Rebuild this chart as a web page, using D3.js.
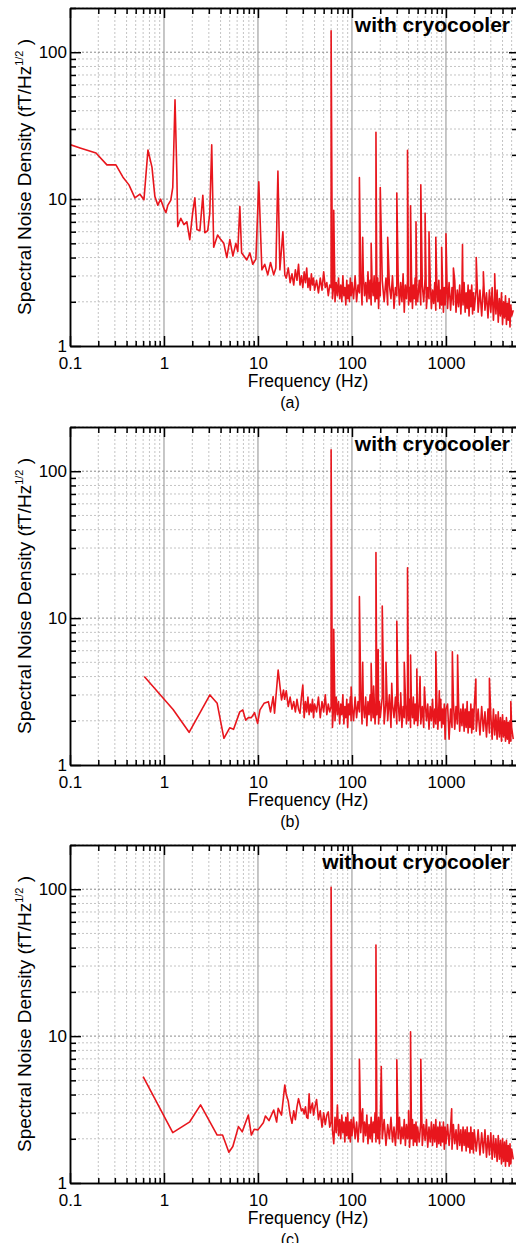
<!DOCTYPE html>
<html>
<head>
<meta charset="utf-8">
<title>spectral noise density</title>
<script src="https://d3js.org/d3.v7.min.js"></script>
<style>
body { margin: 0; background: #fff; }
svg { display: block; font-family: "Liberation Sans", Arial, sans-serif; }
</style>
</head>
<body>
<script>
// values
const titles = ["with cryocooler", "with cryocooler", "without cryocooler"];
const tags = ["(a)", "(b)", "(c)"];
const xTicks = [0.1, 1, 10, 100, 1000];
const yTicks = [1, 10, 100];

// low frequency part, [Hz, fT/Hz^1/2]
const lowA = [[0.1,23.5],[0.128,22.3],[0.189,20.6],[0.247,17.1],[0.308,17.1],[0.366,14.1],[0.424,12.5],
  [0.49,10.2],[0.555,10.8],[0.612,9.9],[0.675,21.6],[0.745,16.5],[0.8,10.4],[0.86,9.1],[0.92,10.0],
  [1.0,8.6],[1.05,8.1],[1.1,9.1],[1.18,9.8],[1.24,12],[1.31,47.5],[1.37,15],[1.4,6.5],[1.51,7.4],
  [1.63,6.7],[1.75,7.0],[1.88,5.3],[2.02,8.1],[2.13,10.2],[2.24,6.2],[2.41,6.1],[2.59,10.6],[2.72,5.9],
  [2.92,6.1],[3.07,8],[3.22,23.4],[3.38,4.7],[3.72,5.7],[4.02,5.3],[4.33,5.0],[4.66,4.0],[5.02,5.3],
  [5.41,4.1],[5.82,5.0],[6.1,4.4],[6.41,8.9],[6.7,4.3],[6.9,4.2],[7.6,3.85],[8.2,4.3],[8.8,3.6],
  [9.5,3.9],[10.2,13.1],[11.0,3.3],[11.8,3.6],[12.7,3.05],[13.6,3.7],[14.7,3.05],[15.5,3.4],
  [16.3,15.5],[17.1,3.3],[18.4,6.0],[19.3,3.05]];
const lowB = [[0.617,4.0],[1.25,2.39],[1.85,1.67],[3.08,3.0],[3.68,2.63],[4.34,1.52],[5.0,1.79],
  [5.5,1.75],[6.4,2.3],[6.9,2.37],[7.4,2.02],[7.9,2.1],[8.5,2.1],[9.2,2.27],[9.9,1.92],[10.5,2.37],
  [11.6,2.63],[12.9,2.7],[13.6,2.3],[14.5,2.92],[15.0,2.25],[16.4,4.43],[17.8,2.77],[18.7,3.24],[19.2,2.8]];
const lowC = [[0.6,5.3],[1.24,2.2],[1.88,2.61],[2.45,3.4],[3.68,2.12],[4.2,2.12],[4.9,1.62],[5.4,1.77],
  [6.2,2.42],[6.8,2.23],[7.9,2.9],[8.5,2.12],[9.1,2.32],[10.0,2.3],[11.4,2.57],[12.0,2.86],[13.1,2.66],
  [13.9,2.9],[14.7,3.14],[15.8,2.6],[16.4,3.22],[17.8,2.9],[19.3,4.65]];

// noise floor above 20 Hz, same frequencies for all panels
const freqGrid = [
  20,21,22,23,24,25,26,27,28,29,30,31,32,33,34,35,36,37,38,39,40,
  42,44,46,48,50,52,54,56,58,60,62,64,66,68,70,72,74,76,78,80,82,84,86,88,90,92,94,96,98,100,
  104,108,112,116,120,124,128,132,136,140,144,148,152,156,160,164,168,172,176,180,184,188,192,196,200,
  210,220,230,240,250,260,270,280,290,300,310,320,330,340,350,360,370,380,390,400,410,420,430,440,450,460,470,480,490,500,
  520,540,560,580,600,620,640,660,680,700,720,740,760,780,800,820,840,860,880,900,920,940,960,980,1000,
  1040,1080,1120,1160,1200,1240,1280,1320,1360,1400,1440,1480,1520,1560,1600,1640,1680,1720,1760,1800,1840,1880,1920,1960,2000,
  2100,2200,2300,2400,2500,2600,2700,2800,2900,3000,3100,3200,3300,3400,3500,3600,3700,3800,3900,4000,
  4100,4200,4300,4400,4500,4600,4700,4800,4900,5000,5200];

const noiseA = [
  2.9,3.4,2.7,3.1,2.6,3.3,2.8,3.6,2.6,3.0,2.5,3.2,2.7,3.4,2.5,2.9,2.4,3.1,2.6,2.9,2.4,
  2.8,2.3,2.9,2.4,3.2,2.5,2.7,2.2,2.6,2.5,2.1,2.6,2.0,2.7,2.2,2.9,2.1,2.6,2.0,3.0,2.2,2.5,1.9,2.8,2.1,2.6,2.0,2.9,2.2,2.7,
  2.1,3.0,2.0,2.6,2.3,2.9,1.9,3.1,2.2,2.7,2.0,3.2,2.1,2.8,1.9,2.6,2.2,3.0,2.0,2.5,2.1,2.9,1.8,2.7,2.2,
  2.8,2.0,2.9,1.9,2.6,2.1,3.0,1.8,2.5,2.2,2.9,1.9,2.7,2.0,3.1,1.7,2.6,2.1,2.8,1.9,2.5,2.0,3.0,1.8,2.6,2.1,2.9,1.9,2.4,2.0,
  2.8,1.9,2.6,2.0,2.9,1.8,2.5,2.1,2.8,1.8,2.4,1.95,2.7,1.75,2.6,2.0,2.8,1.8,2.4,1.9,2.7,1.7,2.5,1.9,2.6,
  1.8,2.7,1.75,2.5,1.9,2.8,1.7,2.4,1.85,2.6,1.65,2.5,1.9,2.7,1.7,2.3,1.8,2.6,1.6,2.4,1.85,2.6,1.65,2.3,1.75,
  2.5,1.7,2.4,1.6,2.6,1.75,2.3,1.55,2.4,1.7,2.5,1.5,2.2,1.65,2.4,1.45,2.1,1.6,2.3,1.4,
  2.0,1.55,2.2,1.4,1.95,1.5,2.1,1.35,1.9,1.6,1.75];
const noiseB = [
  3.2,2.5,2.9,2.4,2.7,2.3,2.8,2.4,2.25,2.9,3.5,2.1,2.7,2.3,2.9,2.2,2.6,2.3,2.8,2.1,2.6,
  2.3,2.9,2.1,2.7,2.3,3.0,2.2,2.6,2.3,2.5,1.8,2.6,2.0,2.9,2.2,2.7,1.9,2.6,2.2,3.0,1.9,2.5,2.1,2.8,1.8,2.6,2.2,2.9,2.0,2.6,
  2.0,2.9,2.1,2.7,2.3,3.1,1.9,2.6,2.1,2.9,1.85,2.7,2.2,3.0,2.0,2.6,2.1,2.9,1.9,2.5,2.2,3.0,1.9,2.7,2.1,
  2.9,1.9,2.7,2.0,3.0,1.8,2.6,2.1,2.9,1.9,2.7,2.0,2.8,1.8,2.5,2.1,3.0,1.9,2.6,2.0,2.8,1.8,2.5,2.1,2.9,1.9,2.6,2.0,2.8,1.85,
  2.7,1.9,2.5,1.8,2.8,2.0,2.6,1.75,2.5,2.0,2.8,1.8,2.4,1.9,2.7,1.75,2.5,2.0,2.8,1.8,2.4,1.9,2.6,1.5,2.4,
  2.6,1.5,2.4,1.8,2.7,1.75,2.5,1.9,2.7,1.7,2.4,1.85,2.6,1.7,2.4,1.8,2.7,1.65,2.3,1.8,2.6,1.65,2.4,1.75,2.5,
  1.7,2.4,1.6,2.5,1.7,2.3,1.55,2.4,1.65,2.2,1.5,2.4,1.6,2.2,1.5,2.3,1.55,2.1,1.45,2.2,
  1.55,2.0,1.45,2.1,1.5,1.95,1.4,2.0,1.45,1.8,1.5];
const noiseC = [
  4.0,3.6,2.9,2.55,3.1,2.7,3.3,3.75,3.4,3.1,3.2,2.95,3.3,2.8,2.75,4.05,3.0,3.3,3.5,2.9,3.2,
  3.7,2.7,3.1,2.4,3.0,2.5,2.9,3.05,2.4,2.6,2.3,1.85,2.8,2.2,3.4,2.1,2.7,2.0,2.9,2.2,2.6,1.9,2.8,2.1,3.0,2.0,2.6,1.9,2.7,2.1,
  2.8,2.0,2.6,1.9,2.7,2.2,3.0,1.9,2.6,2.1,2.9,1.85,2.5,2.0,2.8,1.9,2.6,2.2,3.0,1.9,2.5,2.0,2.8,1.85,2.5,
  2.0,2.7,1.8,2.5,2.0,2.8,1.9,2.4,1.8,2.6,2.0,2.8,1.85,2.4,2.0,2.7,1.8,2.5,2.0,2.6,1.75,2.4,2.0,2.7,1.8,2.5,1.9,2.6,1.8,2.4,
  1.9,2.6,1.8,2.5,1.95,2.7,1.75,2.4,1.9,2.6,1.8,2.5,1.9,2.7,1.75,2.4,1.85,2.6,1.8,2.4,1.9,2.6,1.7,2.4,1.85,
  2.5,1.8,2.4,1.7,2.5,1.85,2.3,1.7,2.5,1.8,2.3,1.65,2.4,1.8,2.3,1.65,2.4,1.75,2.2,1.6,2.4,1.7,2.2,1.6,2.3,
  1.65,2.3,1.55,2.2,1.6,2.3,1.5,2.1,1.55,2.2,1.45,2.1,1.5,2.0,1.4,2.1,1.45,1.95,1.35,2.0,
  1.4,1.9,1.3,1.95,1.4,1.8,1.3,1.85,1.35,1.7,1.45];

// line harmonics and other spikes
const peaksA = [[60,140],[64,8.4],[120,14],[130,5.5],[160,5.0],[180,28.5],[200,12],[240,5.5],[300,11],
  [390,21.5],[420,9],[480,7],[540,12.5],[600,8],[660,6],[780,5.5],[900,4.7],[1000,5.8],[1200,3.4],
  [1500,4.9],[2100,4.0],[2500,3.2],[3300,3.1]];
const peaksB = [[60,140],[64,8.4],[98,3.4],[120,14],[130,5.0],[160,4.9],[170,3.45],[180,28],[190,6.1],
  [210,12.1],[230,5.0],[265,3.6],[300,9.5],[330,3.1],[360,5.0],[390,22],[420,5.6],[490,4.5],[530,4.0],
  [590,3.4],[780,5.9],[850,3.2],[1170,5.9],[1330,5.6],[2080,3.85],[2900,3.9],[4900,2.7]];
const peaksC = [[60,103],[120,6.95],[130,3.2],[180,41.7],[205,6.2],[300,6.9],[400,3.1],[420,10.7],
  [540,6.95],[1150,3.2]];

const lows = [lowA, lowB, lowC];
const noises = [noiseA, noiseB, noiseC];
const peaks = [peaksA, peaksB, peaksC];

var w = 516, h = 1243;
var left = 70, right = 517, plotH = 338;
var tops = [8, 427, 845];

const svg = d3.select("body").append("svg").attr("width", w).attr("height", h);

const x = d3.scaleLog().domain([0.1, 5700]).range([left, right]);

// minor tick positions 2..9 per decade
var xMinor = [], yMinor = [];
[0.1, 1, 10, 100, 1000].forEach(d => { for (var k = 2; k <= 9; k++) if (k * d < 5700) xMinor.push(k * d); });
[1, 10, 100].forEach(d => { for (var k = 2; k <= 9; k++) if (k * d <= 200) yMinor.push(k * d); });

function buildSeries(low, noise, pk) {
  var pts = low.concat(freqGrid.map((f, i) => [f, noise[i]]), pk);
  return pts.sort((a, b) => a[0] - b[0]);
}

function styleAxis(sel) {
  sel.selectAll("path").attr("stroke", "#000").attr("stroke-width", 1.5);
  sel.selectAll("line").attr("stroke", "#000").attr("stroke-width", 1.5);
  sel.selectAll("text").attr("font-size", 17).attr("fill", "#000")
    .style("font-family", '"Liberation Sans", Arial, sans-serif');
}

function drawPanel(i) {
  var top = tops[i], bottom = top + plotH;
  var y = d3.scaleLog().domain([1, 200]).range([bottom, top]);
  var g = svg.append("g");

  // grid
  g.append("g").selectAll("line").data(xMinor).join("line")
    .attr("x1", d => x(d)).attr("x2", d => x(d)).attr("y1", top).attr("y2", bottom)
    .attr("stroke", "#c4c4c4").attr("stroke-width", 1).attr("stroke-dasharray", "2,2");
  g.append("g").selectAll("line").data(yMinor).join("line")
    .attr("x1", left).attr("x2", right).attr("y1", d => y(d)).attr("y2", d => y(d))
    .attr("stroke", "#c4c4c4").attr("stroke-width", 1).attr("stroke-dasharray", "2,2");
  g.append("g").selectAll("line").data([10, 100]).join("line")
    .attr("x1", left).attr("x2", right).attr("y1", d => y(d)).attr("y2", d => y(d))
    .attr("stroke", "#8a8a8a").attr("stroke-width", 1).attr("stroke-dasharray", "2,2");
  g.append("g").selectAll("line").data([1, 10, 100, 1000]).join("line")
    .attr("x1", d => x(d)).attr("x2", d => x(d)).attr("y1", top).attr("y2", bottom)
    .attr("stroke", "#8f8f8f").attr("stroke-width", 1);

  // spectrum
  svg.append("clipPath").attr("id", "clip" + i).append("rect")
    .attr("x", left).attr("y", top).attr("width", right - left).attr("height", plotH);
  var line = d3.line().x(d => x(d[0])).y(d => y(d[1]));
  g.append("path")
    .datum(buildSeries(lows[i], noises[i], peaks[i]))
    .attr("clip-path", "url(#clip" + i + ")")
    .attr("d", line)
    .attr("fill", "none")
    .attr("stroke", "#e8161d")
    .attr("stroke-width", 1.6)
    .attr("stroke-linejoin", "round");

  // axes, ticks pointing inward
  g.append("g").attr("transform", "translate(0," + bottom + ")")
    .call(d3.axisBottom(x).tickValues(xMinor).tickSize(-5).tickSizeOuter(0).tickFormat(""))
    .call(styleAxis);
  g.append("g").attr("transform", "translate(0," + bottom + ")")
    .call(d3.axisBottom(x).tickValues(xTicks).tickSize(-10).tickSizeOuter(0).tickPadding(11)
      .tickFormat(d3.format("~g")))
    .call(styleAxis);
  g.append("g").attr("transform", "translate(0," + top + ")")
    .call(d3.axisTop(x).tickValues(xMinor).tickSize(-6).tickSizeOuter(0).tickFormat(""))
    .call(styleAxis);
  g.append("g").attr("transform", "translate(0," + top + ")")
    .call(d3.axisTop(x).tickValues(xTicks).tickSize(-10).tickSizeOuter(0).tickFormat(""))
    .call(styleAxis);
  g.append("g").attr("transform", "translate(" + left + ",0)")
    .call(d3.axisLeft(y).tickValues(yMinor).tickSize(-6).tickSizeOuter(0).tickFormat(""))
    .call(styleAxis);
  g.append("g").attr("transform", "translate(" + left + ",0)")
    .call(d3.axisLeft(y).tickValues(yTicks).tickSize(-11).tickSizeOuter(0).tickPadding(3)
      .tickFormat(d3.format("~g")))
    .call(styleAxis);
  g.append("g").attr("transform", "translate(" + right + ",0)")
    .call(d3.axisRight(y).tickValues(yMinor).tickSize(-5).tickSizeOuter(0).tickFormat(""))
    .call(styleAxis);
  g.append("g").attr("transform", "translate(" + right + ",0)")
    .call(d3.axisRight(y).tickValues(yTicks).tickSize(-8).tickSizeOuter(0).tickFormat(""))
    .call(styleAxis);

  // texts
  g.append("text").attr("x", 510).attr("y", top + 24)
    .attr("text-anchor", "end").attr("font-size", 21).attr("font-weight", "bold")
    .text(titles[i]);

  g.append("text").attr("x", 308).attr("y", bottom + 41)
    .attr("text-anchor", "middle").attr("font-size", 17.5)
    .text("Frequency (Hz)");
  g.append("text").attr("x", 290).attr("y", bottom + 62)
    .attr("text-anchor", "middle").attr("font-size", 16)
    .text(tags[i]);

  var yl = g.append("text")
    .attr("transform", "translate(31," + (top + plotH / 2) + ") rotate(-90)")
    .attr("text-anchor", "middle").attr("font-size", 19);
  yl.append("tspan").text("Spectral Noise Density (fT/Hz");
  yl.append("tspan").attr("font-size", 11).attr("dy", -8).text("1/2");
  yl.append("tspan").attr("dy", 8).text(" )");
}

for (var i = 0; i < 3; i++) drawPanel(i);
</script>
</body>
</html>
